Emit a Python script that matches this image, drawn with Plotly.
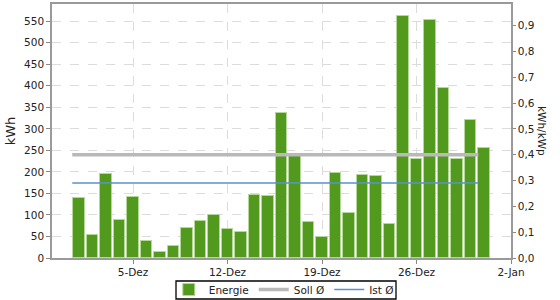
import plotly.graph_objects as go
import pandas as pd

# Data
dates = pd.date_range("2013-12-01", "2013-12-31", freq="D")
energie = [140, 54, 194, 89, 142, 40, 14, 29, 69, 86, 101, 67, 61, 147, 145, 337,
           241, 83, 48, 197, 104, 193, 190, 80, 561, 229, 552, 394, 230, 321, 255]
kwp = 600.0
soll_avg = 0.40      # kWh/kWp
ist_avg = 174.0      # kWh
avg_x = ["2013-11-30 12:00", "2013-12-30 14:00"]
tick_vals = ["2013-12-05", "2013-12-12", "2013-12-19", "2013-12-26", "2014-01-02"]
tick_text = ["5-Dez", "12-Dez", "19-Dez", "26-Dez", "2-Jan"]
y_max = 590

font = dict(family="DejaVu Sans", size=10.5, color="#222222")
grid = dict(showgrid=True, gridcolor="#dcdcdc", griddash="dash", gridwidth=1)

fig = go.Figure()
fig.add_trace(go.Bar(
    x=dates, y=energie, name="Energie",
    marker=dict(color="#519a1e", line=dict(color="#b5d89a", width=1)),
    width=0.82 * 86400000,
))
fig.add_trace(go.Scatter(
    x=avg_x, y=[soll_avg * kwp] * 2, name="Soll Ø", mode="lines",
    line=dict(color="#b9b9b9", width=3.5),
))
fig.add_trace(go.Scatter(
    x=avg_x, y=[ist_avg] * 2, name="Ist Ø", mode="lines",
    line=dict(color="#5a8fd3", width=1.5),
))
# invisible trace to create secondary axis
fig.add_trace(go.Scatter(x=[dates[0]], y=[0], yaxis="y2", showlegend=False,
                         mode="markers", marker=dict(opacity=0), hoverinfo="skip"))

fig.update_layout(
    width=560, height=300,
    margin=dict(l=52, r=49, t=4, b=42, autoexpand=False),
    paper_bgcolor="white", plot_bgcolor="white",
    font=font,
    separators=", ",
    bargap=0,
    xaxis=dict(
        type="date", automargin=False,
        range=["2013-11-29", "2014-01-02"],
        tickvals=tick_vals, ticktext=tick_text,
        ticks="outside", ticklen=4, tickcolor="#888888",
        showline=True, linecolor="#9a9a9a", linewidth=1.5, mirror=True,
        **grid,
    ),
    yaxis=dict(
        range=[0, y_max], dtick=50, tickformat="d", automargin=False,
        ticks="outside", ticklen=4, tickcolor="#888888",
        showline=True, linecolor="#9a9a9a", linewidth=1.5,
        title=dict(text="kWh", standoff=6),
        **grid,
    ),
    yaxis2=dict(
        overlaying="y", side="right", automargin=False,
        range=[0, y_max / kwp], dtick=0.1, tickformat=".1f",
        ticks="outside", ticklen=3, tickcolor="#888888",
        showline=True, linecolor="#9a9a9a", linewidth=1.5,
        showgrid=False, zeroline=False,
    ),
    legend=dict(
        orientation="h", x=0.505, xanchor="center",
        yref="container", y=1 - 275 / 300, yanchor="top",
        borderwidth=0, itemwidth=30,
        font=dict(family="DejaVu Sans", size=10.5, color="#222222"),
        bgcolor="rgba(0,0,0,0)",
    ),
    showlegend=True,
    shapes=[dict(type="rect", xref="paper", yref="paper",
                 x0=(176 - 52) / 459, x1=(396 - 52) / 459,
                 y0=-(299 - 258) / 254, y1=-(281 - 258) / 254,
                 line=dict(color="#000000", width=1.3), layer="above")],
)

fig.add_annotation(
    text="kWh/kWp", textangle=90, xref="paper", yref="paper",
    x=1.0, xshift=31, xanchor="center", y=0.5, yanchor="middle", showarrow=False,
    font=dict(family="DejaVu Sans", size=10.5, color="#222222"),
)

fig.write_html("out.html")
